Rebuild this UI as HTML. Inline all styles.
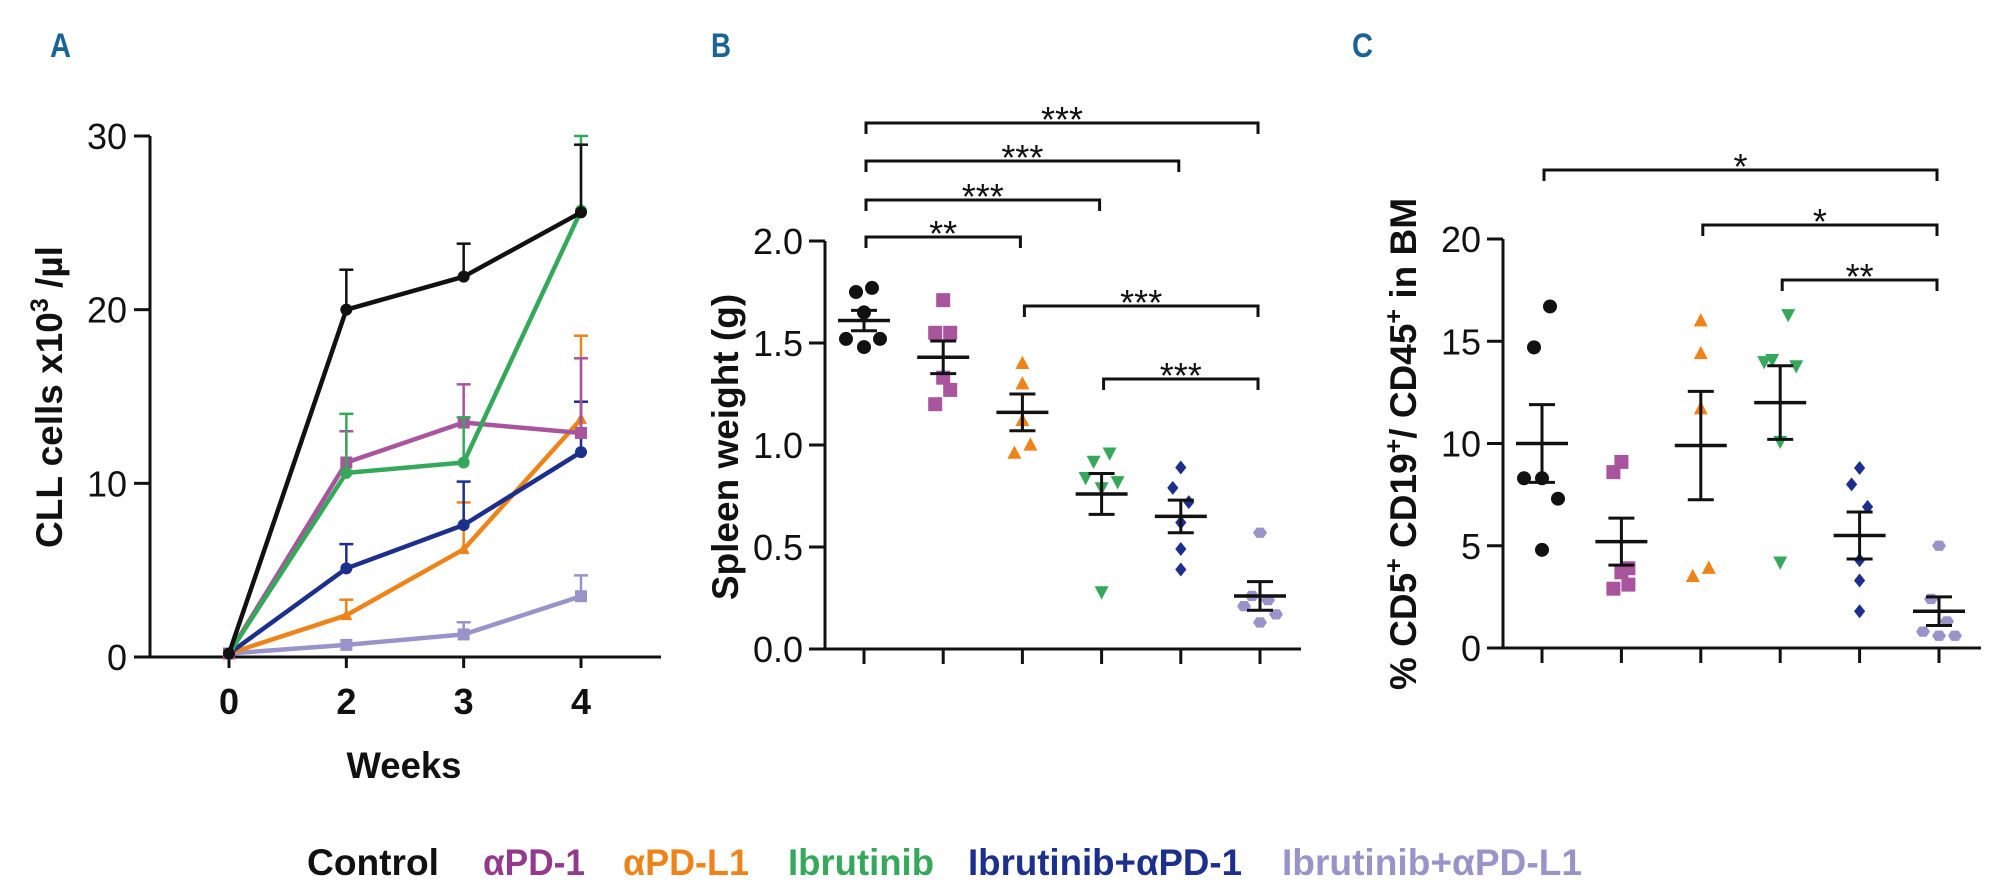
<!DOCTYPE html>
<html><head><meta charset="utf-8">
<style>
html,body{margin:0;padding:0;background:#fff;}
svg{display:block;font-family:"Liberation Sans",Arial,sans-serif;}
.tick{font-size:36px;fill:#111;}
.xtick{font-size:36px;font-weight:bold;fill:#111;}
.title{font-size:37px;font-weight:bold;fill:#111;}
.panel{font-size:34px;font-weight:bold;fill:#1a6394;}
.star{font-size:36px;fill:#111;}
.leg{font-size:37px;font-weight:bold;}
</style></head>
<body>
<svg id="fig" width="2000" height="888" viewBox="0 0 2000 888" xmlns="http://www.w3.org/2000/svg">
<text class="panel" x="50" y="57" textLength="21" lengthAdjust="spacingAndGlyphs">A</text>
<text class="panel" x="711" y="57" textLength="20" lengthAdjust="spacingAndGlyphs">B</text>
<text class="panel" x="1352" y="57" textLength="21" lengthAdjust="spacingAndGlyphs">C</text>
<g id="gA"></g>
<g id="gB"></g>
<g id="gC"></g>
<g id="legend">
<text class="leg" x="307" y="875" textLength="132" lengthAdjust="spacingAndGlyphs" fill="#111">Control</text>
<text class="leg" x="483" y="875" textLength="102" lengthAdjust="spacingAndGlyphs" fill="#93398e">αPD-1</text>
<text class="leg" x="623" y="875" textLength="126" lengthAdjust="spacingAndGlyphs" fill="#ee8419">αPD-L1</text>
<text class="leg" x="788" y="875" textLength="146" lengthAdjust="spacingAndGlyphs" fill="#36a85c">Ibrutinib</text>
<text class="leg" x="968" y="875" textLength="274" lengthAdjust="spacingAndGlyphs" fill="#1c2f8c">Ibrutinib+αPD-1</text>
<text class="leg" x="1282" y="875" textLength="300" lengthAdjust="spacingAndGlyphs" fill="#9893c9">Ibrutinib+αPD-L1</text>
</g>
</svg>
<script>
// ---------- data ----------
const groupNames = ["Control","aPD-1","aPD-L1","Ibrutinib","Ibrutinib+aPD-1","Ibrutinib+aPD-L1"];
const groupColors = ["#111111","#a8559d","#ee8419","#36a85c","#1c2f8c","#9893c9"];
const groupShapes = ["circle","square","tri","tridown","diamond","hex"];

// Panel A
const weeks = ["0","2","3","4"];
const aMeans = [
  [0.2,20.0,21.9,25.6],
  [0.2,11.2,13.5,12.9],
  [0.2,2.4,6.2,13.7],
  [0.2,10.6,11.2,25.7],
  [0.2,5.1,7.6,11.8],
  [0.2,0.7,1.3,3.5]
];
const aErrTop = [
  [0.2,22.3,23.8,29.5],
  [0.2,13.0,15.7,17.2],
  [0.2,3.3,8.9,18.5],
  [0.2,14.0,13.8,30.0],
  [0.2,6.5,10.1,14.7],
  [0.2,0.7,2.0,4.7]
];
const aTicks = [0,10,20,30];

// Panel B
const bPoints = [
  [1.77,1.75,1.65,1.52,1.52,1.48],
  [1.71,1.55,1.55,1.33,1.27,1.20],
  [1.40,1.30,1.12,1.00,0.96],
  [0.96,0.92,0.84,0.82,0.79,0.28],
  [0.89,0.79,0.72,0.62,0.49,0.39],
  [0.57,0.26,0.24,0.21,0.17,0.13]
];
const bMeans = [1.61,1.43,1.16,0.76,0.65,0.26];
const bSem = [0.05,0.08,0.09,0.10,0.08,0.07];
const bTicks = [0.0,0.5,1.0,1.5,2.0];
const bBrackets = [[0,5],[0,4],[0,3],[0,2],[2,5],[3,5]];
const bStars = ["***","***","***","**","***","***"];

// Panel C
const cPoints = [
  [16.7,14.7,8.3,8.3,7.3,4.8],
  [9.1,8.6,3.9,3.7,3.1,2.9],
  [16.0,14.4,11.7,3.9,3.5],
  [16.3,14.1,14.0,13.8,10.1,4.2],
  [8.8,8.0,6.9,4.3,3.3,1.8],
  [5.0,2.4,1.3,0.8,0.6,0.6]
];
const cMeans = [10.0,5.2,9.9,12.0,5.5,1.8];
const cSem = [1.9,1.15,2.65,1.8,1.15,0.7];
const cTicks = [0,5,10,15,20];
const cBrackets = [[0,5],[2,5],[3,5]];
const cStars = ["*","*","**"];

// jitter offsets (px, style only)
const jitter = [
  [8,-8,0,-18,16,0],
  [0,-8,7,0,7,-8],
  [0,0,0,8,-8],
  [8,-8,-16,16,0,0],
  [0,-8,8,0,0,0],
  [0,-8,8,-16,16,0]
];

// ---------- helpers ----------
const NS="http://www.w3.org/2000/svg";
function mk(tag,attrs,parent){const e=document.createElementNS(NS,tag);for(const k in attrs)e.setAttribute(k,attrs[k]);parent.appendChild(e);return e;}
function marker(parent,shape,cx,cy,r,color){
  let e;
  if(shape==="circle") e=mk("circle",{cx:cx,cy:cy,r:r,fill:color},parent);
  else if(shape==="square") e=mk("rect",{x:cx-r,y:cy-r,width:2*r,height:2*r,fill:color},parent);
  else if(shape==="tri") e=mk("polygon",{points:`${cx},${cy-r*1.1} ${cx+r},${cy+r*0.8} ${cx-r},${cy+r*0.8}`,fill:color},parent);
  else if(shape==="tridown") e=mk("polygon",{points:`${cx},${cy+r*1.1} ${cx+r},${cy-r*0.8} ${cx-r},${cy-r*0.8}`,fill:color},parent);
  else if(shape==="diamond") e=mk("polygon",{points:`${cx},${cy-r} ${cx+r*0.8},${cy} ${cx},${cy+r} ${cx-r*0.8},${cy}`,fill:color},parent);
  else { let p=[];for(let i=0;i<6;i++){const a=Math.PI/3*i;p.push((cx+r*Math.cos(a)).toFixed(1)+","+(cy+r*0.85*Math.sin(a)).toFixed(1));} e=mk("polygon",{points:p.join(" "),fill:color},parent);}
  return e;
}
function line(p,x1,y1,x2,y2,c,w){return mk("line",{x1:x1,y1:y1,x2:x2,y2:y2,stroke:c||"#111","stroke-width":w||3},p);}

// ---------- Panel A ----------
(function(){
  const g=document.getElementById("gA");
  const x0=150,x1=661,y0=657,yTop=136,ymax=30;
  const ys=v=>y0-(v/ymax)*(y0-yTop);
  const xPos=[229,346,464,581];
  const xs=i=>xPos[0]+(xPos[3]-xPos[0])*i/(weeks.length-1);
  const ax=line(g,x0,y0,x1,y0,"#111",3);
  
  
  const ay=line(g,x0,ys(ymax),x0,y0,"#111",3);
  
  
  aTicks.forEach(t=>{
    line(g,134,ys(t),x0,ys(t));
    const tx=mk("text",{x:127,y:ys(t)+13,"text-anchor":"end",class:"tick"},g);tx.textContent=t;
    
    
  });
  weeks.forEach((w,i)=>{
    line(g,xs(i),y0,xs(i),668);
    const tx=mk("text",{x:xs(i),y:714,"text-anchor":"middle",class:"xtick"},g);tx.textContent=w;
    
    
  });
  const xt=mk("text",{x:404,y:778,"text-anchor":"middle",class:"title",textLength:115,lengthAdjust:"spacingAndGlyphs"},g);xt.textContent="Weeks";
  
  
  const yt=mk("text",{x:0,y:0,"text-anchor":"middle",class:"title",transform:"translate(62,397) rotate(-90)"},g);
  yt.innerHTML='CLL cells x10<tspan dy="-14" font-size="25">3</tspan><tspan dy="14"> /µl</tspan>';
  
  
  const order=[5,2,4,1,3,0];
  order.forEach(s=>{
    const col=groupColors[s];
    const sg=mk("g",{},g);
    
    
    aMeans[s].forEach((v,i)=>{
      if(aErrTop[s][i]>v+0.1){line(sg,xs(i),ys(v),xs(i),ys(aErrTop[s][i]),col,2.5);line(sg,xs(i)-7,ys(aErrTop[s][i]),xs(i)+7,ys(aErrTop[s][i]),col,2.5);}
    });
    const pts=aMeans[s].map((v,i)=>xs(i)+","+ys(v)).join(" ");
    const pl=mk("polyline",{points:pts,fill:"none",stroke:col,"stroke-width":4.5,"stroke-linejoin":"round"},sg);
    
    
    aMeans[s].forEach((v,i)=>{
      const m=marker(sg,s===5||s===1?"square":(s===2?"tri":"circle"),xs(i),ys(v),6,col);
      
      
    });
  });
})();

// ---------- scatter panel ----------
function scatterPanel(id,opts){
  const g=document.getElementById(id);
  const ys=v=>opts.y0-(v/opts.ymax)*(opts.y0-opts.yTop);
  const xs=i=>opts.xFirst+(opts.xLast-opts.xFirst)*i/(groupNames.length-1);
  const ax=line(g,opts.axX-16,opts.y0,opts.xEnd,opts.y0);
  
  
  const ay=line(g,opts.axX,ys(opts.ymax),opts.axX,opts.y0);
  
  
  opts.ticks.forEach(t=>{
    line(g,opts.axX-16,ys(t),opts.axX,ys(t));
    const tx=mk("text",{x:opts.axX-22,y:ys(t)+13,"text-anchor":"end",class:"tick"},g);tx.textContent=opts.fmt(t);
    
    
  });
  groupNames.forEach((n,i)=>{ line(g,xs(i),opts.y0,xs(i),opts.y0+15); });
  const yt=mk("text",{x:0,y:0,"text-anchor":"middle",class:"title",transform:`translate(${opts.ytX},${opts.ytY}) rotate(-90)`},g);
  yt.innerHTML=opts.ytitle;
  
  
  opts.points.forEach((arr,i)=>{
    const gg=mk("g",{},g);
    
    
    arr.forEach((v,k)=>{
      const m=marker(gg,groupShapes[i],xs(i)+jitter[i][k],ys(v),7,groupColors[i]);
      
      
    });
    const mx=xs(i),mv=opts.means[i],se=opts.sem[i];
    const ml=line(gg,mx-26,ys(mv),mx+26,ys(mv),"#111",3.5);
    
    
    line(gg,mx,ys(mv+se),mx,ys(mv-se),"#111",3);
    line(gg,mx-13,ys(mv+se),mx+13,ys(mv+se),"#111",3);
    line(gg,mx-13,ys(mv-se),mx+13,ys(mv-se),"#111",3);
  });
  opts.brackets.forEach((b,k)=>{
    const y=opts.brY[k],xa=xs(b[0])+2,xb=xs(b[1])-2;
    const p=mk("path",{d:`M${xa},${y+11}V${y}H${xb}V${y+11}`,fill:"none",stroke:"#111","stroke-width":3},g);
    
    
    const st=mk("text",{x:(xa+xb)/2,y:y+9,"text-anchor":"middle",class:"star"},g);st.textContent=opts.stars[k];
    
    
  });
}
scatterPanel("gB",{y0:649,yTop:241,ymax:2.0,axX:825,xEnd:1301,xFirst:864,xLast:1260,ticks:bTicks,fmt:t=>t.toFixed(1),
  points:bPoints,means:bMeans,sem:bSem,brackets:bBrackets,stars:bStars,brY:[123,161,200,237,306,379],
  ytX:738,ytY:447,ytitle:"Spleen weight (g)"});
scatterPanel("gC",{y0:648,yTop:239,ymax:20,axX:1503,xEnd:1981,xFirst:1542,xLast:1939,ticks:cTicks,fmt:t=>String(t),
  points:cPoints,means:cMeans,sem:cSem,brackets:cBrackets,stars:cStars,brY:[170,225,280],
  ytX:1416,ytY:444,ytitle:'% CD5<tspan dy="-14" font-size="25">+</tspan><tspan dy="14"> CD19</tspan><tspan dy="-14" font-size="25">+</tspan><tspan dy="14">/ CD45</tspan><tspan dy="-14" font-size="25">+</tspan><tspan dy="14"> in BM</tspan>'});
</script>
</body></html>
